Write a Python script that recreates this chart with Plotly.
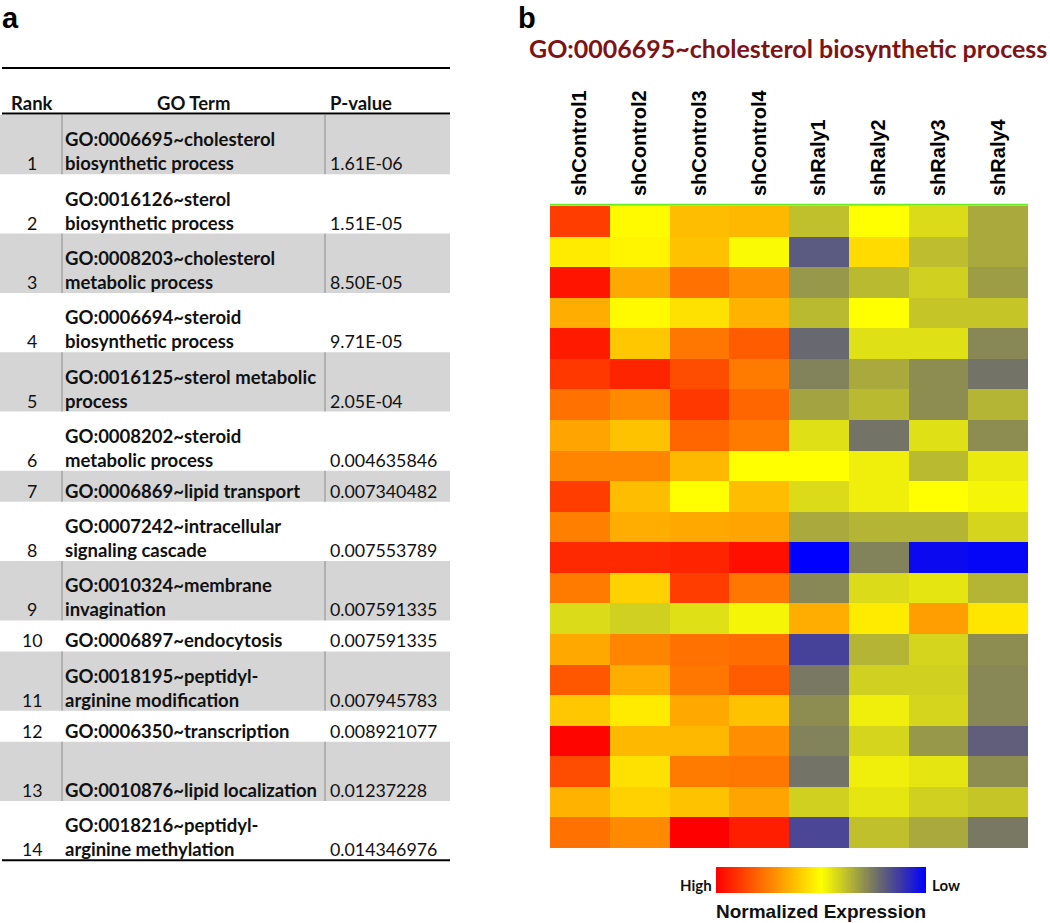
import numpy as np
import plotly.graph_objects as go

# ---------------- data: panel a (GO enrichment table) ----------------
ranks = ["1", "2", "3", "4", "5", "6", "7", "8", "9", "10", "11", "12", "13", "14"]
go_terms = [
    ["GO:0006695~cholesterol", "biosynthetic process"],
    ["GO:0016126~sterol", "biosynthetic process"],
    ["GO:0008203~cholesterol", "metabolic process"],
    ["GO:0006694~steroid", "biosynthetic process"],
    ["GO:0016125~sterol metabolic", "process"],
    ["GO:0008202~steroid", "metabolic process"],
    ["GO:0006869~lipid transport"],
    ["GO:0007242~intracellular", "signaling cascade"],
    ["GO:0010324~membrane", "invagination"],
    ["GO:0006897~endocytosis"],
    ["GO:0018195~peptidyl-", "arginine modification"],
    ["GO:0006350~transcription"],
    ["", "GO:0010876~lipid localization"],
    ["GO:0018216~peptidyl-", "arginine methylation"],
]
p_values = ["1.61E-06", "1.51E-05", "8.50E-05", "9.71E-05", "2.05E-04",
            "0.004635846", "0.007340482", "0.007553789", "0.007591335",
            "0.007591335", "0.007945783", "0.008921077", "0.01237228",
            "0.014346976"]
table_headers = ["Rank", "GO Term", "P-value"]

# ---------------- data: panel b (heatmap) ----------------
samples = ["shControl1", "shControl2", "shControl3", "shControl4",
           "shRaly1", "shRaly2", "shRaly3", "shRaly4"]
# normalized expression (1 = high / red, 0.5 = yellow, 0 = low / blue)
expression = [
    [0.88, 0.51, 0.63, 0.64, 0.38, 0.50, 0.43, 0.34],
    [0.54, 0.52, 0.62, 0.49, 0.19, 0.57, 0.375, 0.34],
    [0.96, 0.67, 0.78, 0.72, 0.31, 0.37, 0.41, 0.32],
    [0.66, 0.51, 0.56, 0.65, 0.37, 0.50, 0.39, 0.39],
    [0.95, 0.61, 0.77, 0.82, 0.22, 0.44, 0.44, 0.28],
    [0.89, 0.93, 0.85, 0.76, 0.27, 0.34, 0.29, 0.24],
    [0.78, 0.73, 0.89, 0.80, 0.33, 0.37, 0.29, 0.36],
    [0.68, 0.62, 0.80, 0.76, 0.44, 0.24, 0.44, 0.29],
    [0.74, 0.74, 0.64, 0.50, 0.50, 0.47, 0.37, 0.46],
    [0.88, 0.63, 0.50, 0.63, 0.43, 0.47, 0.50, 0.48],
    [0.75, 0.66, 0.67, 0.68, 0.34, 0.36, 0.36, 0.42],
    [0.92, 0.92, 0.93, 0.97, 0.00, 0.27, 0.02, 0.01],
    [0.76, 0.59, 0.88, 0.77, 0.28, 0.43, 0.45, 0.36],
    [0.43, 0.41, 0.44, 0.48, 0.66, 0.54, 0.69, 0.55],
    [0.67, 0.74, 0.78, 0.79, 0.14, 0.36, 0.42, 0.29],
    [0.83, 0.66, 0.77, 0.82, 0.25, 0.41, 0.41, 0.28],
    [0.61, 0.54, 0.67, 0.62, 0.29, 0.47, 0.42, 0.28],
    [0.99, 0.64, 0.64, 0.72, 0.27, 0.42, 0.31, 0.20],
    [0.85, 0.56, 0.76, 0.77, 0.24, 0.47, 0.45, 0.29],
    [0.65, 0.59, 0.62, 0.68, 0.41, 0.45, 0.41, 0.39],
    [0.78, 0.73, 1.00, 0.94, 0.15, 0.38, 0.34, 0.25],
]
heatmap_title = "GO:0006695~cholesterol biosynthetic process"
legend_levels = np.linspace(0, 1, 256)

# ---------------- styling / layout constants ----------------
W, H = 1050, 923
colorscale = [
    [0.00, "rgb(0,0,255)"],
    [0.12, "rgb(62,56,165)"],
    [0.22, "rgb(104,104,112)"],
    [0.30, "rgb(146,146,78)"],
    [0.40, "rgb(203,203,36)"],
    [0.50, "rgb(255,255,0)"],
    [0.75, "rgb(255,128,0)"],
    [1.00, "rgb(255,0,0)"],
]
TABLE_FONT = "Lato, 'Open Sans', sans-serif"
ARIAL = "'Liberation Sans', Arial, sans-serif"
GRAY_ROW = "#d5d5d5"
SEP_COLOR = "#8a8a8a"
TW = 462  # width of the table area in pixels

fig = go.Figure()

# heatmap
fig.add_trace(go.Heatmap(
    z=expression, x=samples, coloraxis="coloraxis",
    xaxis="x", yaxis="y", hoverinfo="skip",
))
# legend ramp (high on the left)
fig.add_trace(go.Heatmap(
    z=[list(legend_levels)], x=list(legend_levels), coloraxis="coloraxis",
    xaxis="x2", yaxis="y2", hoverinfo="skip",
))

hm_x0, hm_x1 = 550 / W, 1028 / W
hm_ytop, hm_ybot = 1 - 206 / H, 1 - 848 / H
lg_x0, lg_x1 = 716 / W, 926 / W
lg_ytop, lg_ybot = 1 - 867 / H, 1 - 893 / H

fig.update_layout(
    width=W, height=H,
    margin=dict(l=0, r=0, t=0, b=0),
    paper_bgcolor="white", plot_bgcolor="rgba(0,0,0,0)",
    showlegend=False,
    coloraxis=dict(colorscale=colorscale, cmin=0, cmax=1, showscale=False),
    xaxis=dict(domain=[hm_x0, hm_x1], anchor="y", side="top", tickangle=-90,
               ticks="", showgrid=False, zeroline=False, showline=False,
               ticklabelstandoff=9,
               tickfont=dict(family=ARIAL, size=20, color="black", weight="bold")),
    yaxis=dict(domain=[hm_ybot, hm_ytop], anchor="x", autorange="reversed",
               showticklabels=False, ticks="", showgrid=False, zeroline=False),
    xaxis2=dict(domain=[lg_x0, lg_x1], anchor="y2", autorange="reversed",
                showticklabels=False, ticks="", showgrid=False, zeroline=False),
    yaxis2=dict(domain=[lg_ybot, lg_ytop], anchor="x2",
                showticklabels=False, ticks="", showgrid=False, zeroline=False),
    # table axes: 1 unit = 1 pixel, measured from the top-left corner
    xaxis3=dict(domain=[0, TW / W], range=[0, TW], anchor="y3", visible=False,
                fixedrange=True),
    yaxis3=dict(domain=[0, 1], range=[H, 0], anchor="x3", visible=False,
                fixedrange=True),
)

shapes = []
annotations = []

# green line on top of heatmap
shapes.append(dict(type="line", xref="x domain", yref="y domain",
                   x0=0, x1=1, y0=1.002, y1=1.002,
                   line=dict(color="#66ee22", width=2)))

# ---------------- table (panel a) ----------------
TX0, TX1 = 2, 450
SEP1, SEP2 = 62, 325
RANK_X, TERM_X, PV_X, TERM_HDR_X = 32, 63, 328, 193
TOP_RULE, HDR_Y, HDR_RULE, BODY_TOP = 68, 103, 113.5, 115
ROW_H = {1: 31.0, 2: 59.3}
LINE_GAP, LAST_LINE_OFF = 24, 11
FS_B, FS_R = 18.5, 17.8

y = BODY_TOP
for i, (rk, lines, pv) in enumerate(zip(ranks, go_terms, p_values)):
    h = ROW_H[len(lines)]
    y0, y1 = y, y + h
    if i % 2 == 0:
        shapes.append(dict(type="rect", xref="x3", yref="y3", x0=0, x1=TX1,
                           y0=y0, y1=y1, fillcolor=GRAY_ROW,
                           line=dict(width=0), layer="below"))
        for sx in (SEP1, SEP2):
            shapes.append(dict(type="line", xref="x3", yref="y3", x0=sx, x1=sx,
                               y0=y0, y1=y1,
                               line=dict(color=SEP_COLOR, width=1)))
    n = len(lines)
    for k, txt in enumerate(lines):
        if not txt:
            continue
        ly = y1 - LAST_LINE_OFF - LINE_GAP * (n - 1 - k)
        annotations.append(dict(xref="x3", yref="y3", x=TERM_X, y=ly, text=f"<b>{txt}</b>",
                                showarrow=False, xanchor="left", yanchor="middle",
                                font=dict(family=TABLE_FONT, size=FS_B, color="#111")))
    ly = y1 - LAST_LINE_OFF
    annotations.append(dict(xref="x3", yref="y3", x=RANK_X, y=ly, text=rk,
                            showarrow=False, xanchor="center", yanchor="middle",
                            font=dict(family=TABLE_FONT, size=FS_R, color="#111")))
    annotations.append(dict(xref="x3", yref="y3", x=PV_X, y=ly, text=pv,
                            showarrow=False, xanchor="left", yanchor="middle",
                            font=dict(family=TABLE_FONT, size=FS_R, color="#111")))
    y = y1
TABLE_BOTTOM = y

for ry, wdt in ((TOP_RULE, 2), (HDR_RULE, 2), (TABLE_BOTTOM, 2)):
    shapes.append(dict(type="line", xref="x3", yref="y3", x0=TX0, x1=TX1,
                       y0=ry, y1=ry, line=dict(color="black", width=wdt)))

for txt, hx, anc in zip(table_headers, (RANK_X, TERM_HDR_X, PV_X),
                        ("center", "center", "left")):
    annotations.append(dict(xref="x3", yref="y3", x=hx, y=HDR_Y, text=f"<b>{txt}</b>",
                            showarrow=False, xanchor=anc, yanchor="middle",
                            font=dict(family=TABLE_FONT, size=18.5, color="#111")))

# panel letters
annotations.append(dict(xref="paper", yref="paper", x=0.0, y=1 - 18 / H, text="<b>a</b>",
                        showarrow=False, xanchor="left", yanchor="middle",
                        font=dict(family=ARIAL, size=29, color="black")))
annotations.append(dict(xref="paper", yref="paper", x=516 / W, y=1 - 18 / H, text="<b>b</b>",
                        showarrow=False, xanchor="left", yanchor="middle",
                        font=dict(family=ARIAL, size=29, color="black")))

# heatmap title
annotations.append(dict(xref="paper", yref="paper", x=788 / W, y=1 - 48 / H,
                        text=f"<b>{heatmap_title}</b>", showarrow=False,
                        xanchor="center", yanchor="middle",
                        font=dict(family=TABLE_FONT, size=25, color="#7d1315")))

# legend labels
annotations.append(dict(xref="x2 domain", yref="y2 domain", x=0, y=0.3, text="<b>High</b>",
                        showarrow=False, xanchor="right", yanchor="middle", xshift=-2,
                        font=dict(family=TABLE_FONT, size=15, color="#111")))
annotations.append(dict(xref="x2 domain", yref="y2 domain", x=1, y=0.3, text="<b>Low</b>",
                        showarrow=False, xanchor="left", yanchor="middle", xshift=4,
                        font=dict(family=TABLE_FONT, size=15, color="#111")))
annotations.append(dict(xref="x2 domain", yref="paper", x=0.5, y=1 - 911 / H,
                        text="<b>Normalized Expression</b>", showarrow=False,
                        xanchor="center", yanchor="middle",
                        font=dict(family=ARIAL, size=19, color="#111")))

fig.update_layout(shapes=shapes, annotations=annotations)
fig.write_html("out.html", config={"displayModeBar": False},
               post_script="document.body.style.margin='0';document.body.style.overflow='hidden';")
